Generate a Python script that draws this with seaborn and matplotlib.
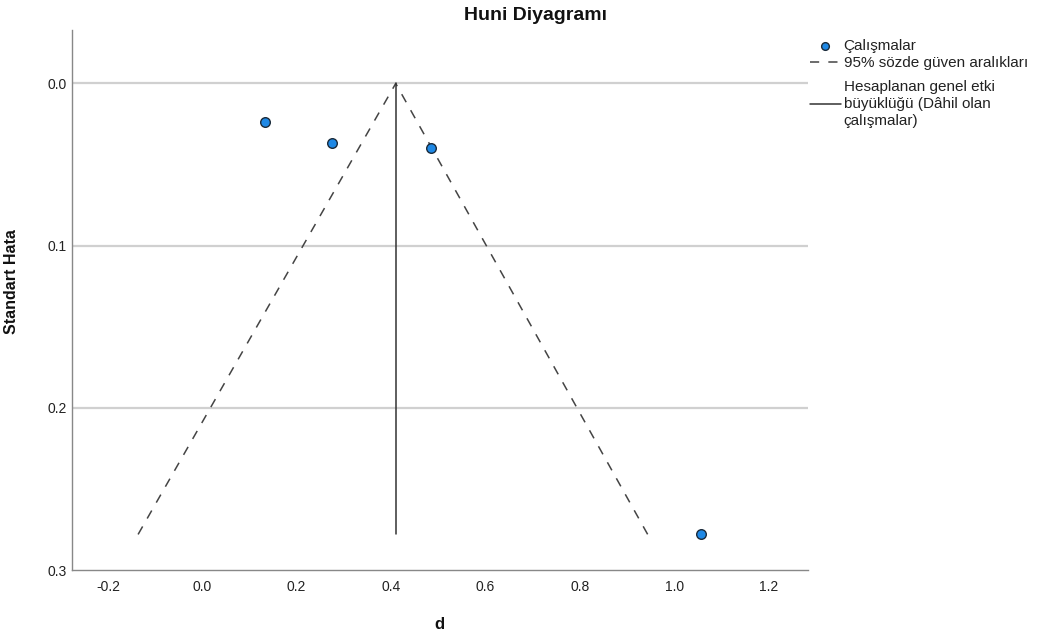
import numpy as np
import pandas as pd
import matplotlib
matplotlib.use("Agg")
import matplotlib.pyplot as plt
import seaborn as sns

# Data
effect_d = [0.133, 0.274, 0.485, 1.057]
std_err = [0.024, 0.037, 0.040, 0.278]
overall_d = 0.41
se_max = 0.278
funnel_lower_end = -0.136
funnel_upper_end = 0.944
x_ticks = [-0.2, 0.0, 0.2, 0.4, 0.6, 0.8, 1.0, 1.2]
y_ticks = [0.0, 0.1, 0.2, 0.3]
legend_labels = ["Çalışmalar", "95% sözde güven aralıkları",
                 "Hesaplanan genel etki\nbüyüklüğü (Dâhil olan\nçalışmalar)"]

sns.set_theme(style="white")
plt.rcParams['font.family'] = ['Liberation Sans', 'DejaVu Sans']

W, H = 1053, 637
fig = plt.figure(figsize=(W / 100, H / 100), dpi=100)
ax = fig.add_axes([0.0684, 0.105, 0.6986, 0.848])

for yv in [0.0, 0.1, 0.2]:
    ax.axhline(yv, color="#d0d0d0", lw=1.6, zorder=0)

funnel = pd.DataFrame({
    "d": [funnel_lower_end, overall_d, funnel_upper_end],
    "se": [se_max, 0.0, se_max],
})
h_dash, = ax.plot(funnel["d"], funnel["se"], color="#444444", lw=1.1,
                  dashes=(6, 6), zorder=2)
h_solid, = ax.plot([overall_d, overall_d], [0.0, se_max], color="#333333",
                   lw=1.1, zorder=2)

df = pd.DataFrame({"d": effect_d, "se": std_err})
sns.scatterplot(data=df, x="d", y="se", ax=ax, s=48, color="#1e88e5",
                edgecolor="#1a2a3a", linewidth=1.0, zorder=3, legend=False)
h_pts = ax.collections[-1]

ax.set_xlim(-0.276, 1.283)
ax.set_ylim(0.3, -0.033)
ax.set_xticks(x_ticks)
ax.set_xticklabels([f"{v:.1f}" for v in x_ticks])
ax.set_yticks(y_ticks)
ax.set_yticklabels([f"{v:.1f}" for v in y_ticks])
ax.tick_params(axis="both", length=0, labelsize=10, colors="#222222")
ax.tick_params(axis="x", pad=7)
ax.tick_params(axis="y", pad=4)

for s in ["top", "right"]:
    ax.spines[s].set_visible(False)
for s in ["left", "bottom"]:
    ax.spines[s].set_color("#888888")
    ax.spines[s].set_linewidth(1.0)

ax.set_xlabel("d", fontsize=12, fontweight="bold", color="#111111")
ax.xaxis.set_label_coords(0.5, -0.087)
ax.set_ylabel("Standart Hata", fontsize=11.5, fontweight="bold", color="#111111")
ax.yaxis.set_label_coords(-0.072, 0.535)
fig.text(535 / W, 1 - 15 / H, "Huni Diyagramı", fontsize=14,
         fontweight="bold", ha="center", va="center", color="#111111")

common = dict(loc="upper left", frameon=False, fontsize=11, handlelength=2.0,
              handletextpad=0.2, labelspacing=0.2, borderaxespad=0,
              borderpad=0, markerscale=0.8, labelcolor="#222222")
leg1 = fig.legend([h_pts, h_dash], legend_labels[:2],
                  bbox_to_anchor=(810 / W, 1 - 39 / H), **common)
leg2 = fig.legend([h_solid], legend_labels[2:],
                  bbox_to_anchor=(810 / W, 1 - 80 / H), **common)
for t in leg2.get_texts():
    t.set_linespacing(1.28)

fig.savefig("out.png", dpi=100)
